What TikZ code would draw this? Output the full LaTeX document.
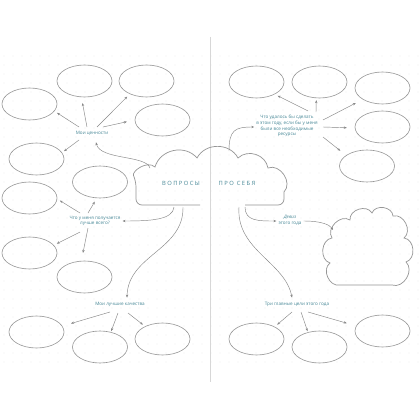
\documentclass[tikz,border=0pt]{standalone}
\usepackage{fontspec}
\setmainfont{Open Sans}
\usetikzlibrary{shapes.geometric,arrows.meta,calc}
\definecolor{ovalc}{RGB}{150,150,150}
\definecolor{linec}{RGB}{135,135,135}
\definecolor{cloudc}{RGB}{150,150,150}
\definecolor{labc}{RGB}{70,135,150}
\definecolor{dotc}{RGB}{212,212,212}
\definecolor{gutc}{RGB}{215,215,215}
\tikzset{
 oval/.style={draw=ovalc, line width=0.6pt, ellipse, minimum width=55pt, minimum height=32pt, inner sep=0pt},
 lab/.style={text=labc, font=\fontsize{4.6}{5.8}\selectfont, align=center, inner sep=1pt},
 ttl/.style={text=labc, font=\fontsize{5.8}{7}\addfontfeatures{LetterSpace=25}\selectfont, inner sep=1pt},
 arr/.style={draw=linec, line width=0.45pt, -{Stealth[length=3pt,width=2.4pt]}},
 cloudline/.style={draw=cloudc, line width=0.7pt},
 lobe/.style={bend left=62, looseness=1.1},
 puff/.style={bend left=78, looseness=1.15}
}
\begin{document}
\begin{tikzpicture}[x=1pt,y=-1pt]
\useasboundingbox (0,0) rectangle (420,420);
\fill[white] (0,0) rectangle (420,420);
% dot grid
\foreach \x in {4,13,...,418} \foreach \y in {56,65,...,366} \fill[dotc] (\x,\y) circle (0.35);
% gutter
\draw[gutc, line width=0.5pt] (210,37) -- (210,382);

% ellipses left page
\node[oval] (e1) at (84.5,81) {};
\node[oval] (e2) at (146.5,81) {};
\node[oval] (e3) at (29.5,104) {};
\node[oval] (e4) at (162.5,120) {};
\node[oval] (e5) at (36.5,159) {};
\node[oval] (e6) at (100,182) {};
\node[oval] (e7) at (29.5,198) {};
\node[oval] (e8) at (29.5,253) {};
\node[oval] (e9) at (84.5,277) {};
\node[oval] (e10) at (36.5,332) {};
\node[oval] (e11) at (100,347) {};
\node[oval] (e12) at (162.5,339) {};
% ellipses right page
\node[oval] (r1) at (256.5,82) {};
\node[oval] (r2) at (319.5,82) {};
\node[oval] (r3) at (382.5,88) {};
\node[oval] (r4) at (382.5,127) {};
\node[oval] (r5) at (367,166) {};
\node[oval] (r6) at (256.5,339) {};
\node[oval] (r7) at (319.5,347) {};
\node[oval] (r8) at (382.5,331) {};

% labels
\node[lab] (l1) at (92,133) {Мои ценности};
\node[lab] (l2) at (95,221) {Что у меня получается\\лучше всего?};
\node[lab] (l3) at (120,304) {Мои лучшие качества};
\node[lab] (l4) at (287,126) {Что удалось бы сделать\\в этом году, если бы у меня\\были все необходимые\\ресурсы};
\node[lab] (l5) at (290,220) {\itshape Девиз\\этого года};
\node[lab] (l6) at (297,304) {Три главные цели этого года};
\node[ttl] (t1) at (181,183) {ВОПРОСЫ};
\node[ttl] (t2) at (237,183) {ПРО СЕБЯ};

% main cloud
\draw[cloudline] (200,205) [rounded corners=6pt] -- (136,205) -- (136,181) [sharp corners]
  to[puff] (155,167) to[lobe] (197,158) to[lobe] (238,158) to[lobe] (268,168) to[puff] (284,192)
  [rounded corners=6pt] -- (284,205) -- (245,205);
\coordinate (c1) at (150,168);
\coordinate (c2) at (174,207);
\coordinate (c3) at (183,207);
\coordinate (c4) at (229,151);
\coordinate (c5) at (245,207);
\coordinate (c6) at (239,207);

% motto cloud
\draw[cloudline] (392,285) -- (340,285) to[puff] (330,263) to[puff] (332,238) to[puff] (350,220)
  to[puff] (372,213) to[puff] (393,216) to[puff] (404,238) to[puff] (406,262) to[puff] (392,285);
\coordinate (m1) at (333,230);

% arrows group 1
\draw[arr, shorten >=3pt] ($(l1)+(-13,-6)$) -- (e3.-16);
\draw[arr, shorten >=6pt] ($(l1)+(-5,-6)$) -- (e1.-101);
\draw[arr, shorten >=3.7pt] ($(l1)+(5,-6)$) -- (e2.218);
\draw[arr, shorten >=8pt] ($(l1)+(11,-6)$) -- (e4.180);
\draw[arr, shorten >=2.4pt] ($(l1)+(-13,7)$) -- (e5.14);
% group 2
\draw[arr, shorten >=3pt] ($(l2)+(-15,-8)$) -- (e7.-2);
\draw[arr, shorten >=4pt] ($(l2)+(-7,-8)$) -- (e6.-101);
\draw[arr, shorten >=3.3pt] ($(l2)+(-15,11)$) -- (e8.18);
\draw[arr, shorten >=8pt] ($(l2)+(-7,7)$) -- (e9.101);
% group 3
\draw[arr, shorten >=9pt] ($(l3)+(-10,8)$) -- (e10.13);
\draw[arr, shorten >=1pt] ($(l3)+(-2,9)$) -- (e11.54);
\draw[arr, shorten >=2.7pt] ($(l3)+(8,9)$) -- (e12.144);
% group 4
\draw[arr, shorten >=3.2pt] ($(l4)+(21,-15)$) -- (r1.-34);
\draw[arr, shorten >=2pt] ($(l4)+(29,-14)$) -- (r2.-101);
\draw[arr, shorten >=7.8pt] ($(l4)+(36,-6)$) -- (r3.210);
\draw[arr, shorten >=8pt] ($(l4)+(36,1)$) -- (r4.182);
\draw[arr, shorten >=7.3pt] ($(l4)+(36,11)$) -- (r5.153);
% group 5
\draw[arr, shorten >=3.2pt] ($(l6)+(-5,8)$) -- (r6.34);
\draw[arr, shorten >=1pt] ($(l6)+(4,8)$) -- (r7.128);
\draw[arr, shorten >=9.7pt] ($(l6)+(11,8)$) -- (r8.169);

% curved connectors
\draw[arr] (c1) .. controls (146,155) and (100,160) .. ($(l1.south)+(4,6)$);
\draw[arr] (c2) .. controls (173,220) and (150,221) .. ($(l2.east)+(1,0)$);
\draw[arr] (c3) .. controls (184,250) and (128,255) .. ($(l3.north)+(7,-3)$);
\draw[arr] (c4) .. controls (229,130) and (235,127) .. ($(l4.west)+(-1,1)$);
\draw[arr] (c5) .. controls (245,221) and (258,221) .. ($(l5.west)+(-1,1)$);
\draw[arr] (c6) .. controls (236,250) and (285,262) .. ($(l6.north)+(-5,-3)$);
\draw[arr] ($(l5.east)+(1,1)$) .. controls (322,221) and (330,225) .. (m1);
\end{tikzpicture}
\end{document}
